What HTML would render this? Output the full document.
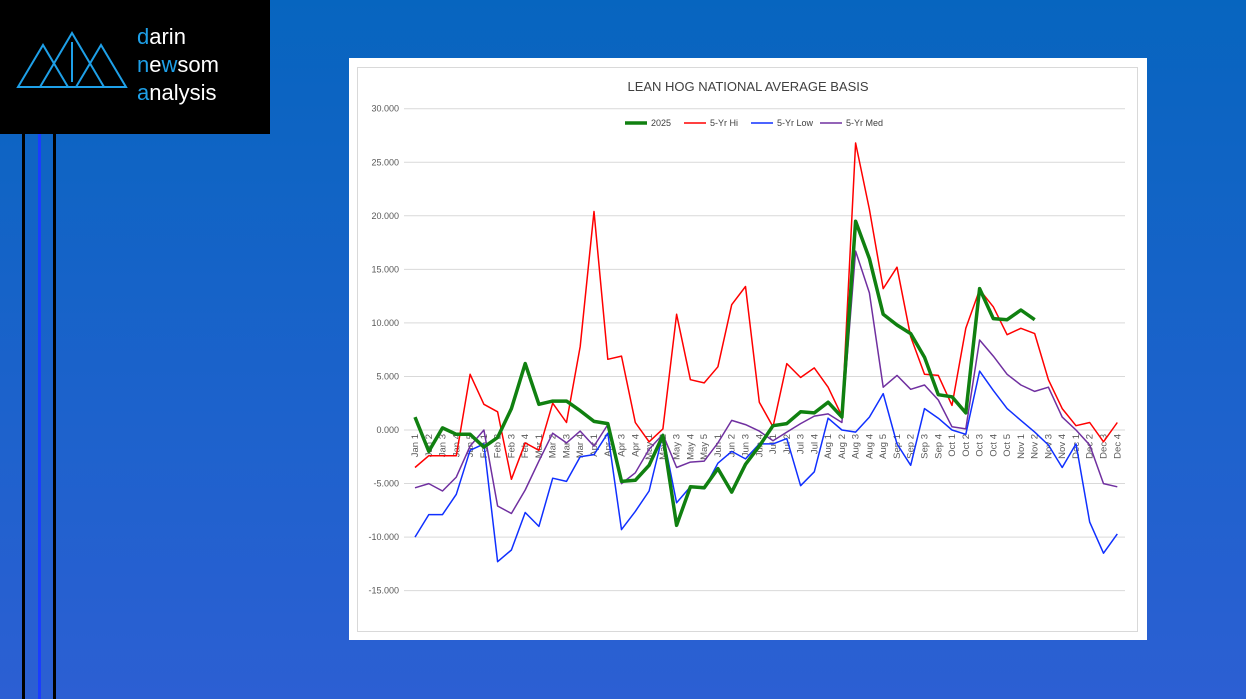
<!DOCTYPE html>
<html><head><meta charset="utf-8"><style>
body{margin:0;width:1246px;height:699px;overflow:hidden;background:linear-gradient(180deg,#0765bf 0%,#1d62cc 60%,#2c5fd3 100%);font-family:"Liberation Sans",sans-serif;position:relative}
#logo{position:absolute;left:0;top:0;width:270px;height:134px;background:#000}
.vl{position:absolute;top:134px;height:565px;width:3px}
#panel{position:absolute;left:349px;top:58px;width:798px;height:582px;background:#fff}
#inner{position:absolute;left:357px;top:67px;width:781px;height:565px;border:1px solid #d9d9d9;box-sizing:border-box}
</style></head><body>
<div id="logo">
<svg width="270" height="134">
<g fill="none" stroke="#1ea0e8" stroke-width="2">
<polygon points="18,87 43,45 68,87"/><polygon points="40,87 72,33 104,87"/><polygon points="76,87 101,45 126,87"/>
<line x1="72" y1="42" x2="72" y2="82"/>
</g>
<text x="137" y="44" font-size="22" fill="#fff" font-family="Liberation Sans,sans-serif"><tspan fill="#1ea0e8">d</tspan>arin</text>
<text x="137" y="72" font-size="22" fill="#fff" font-family="Liberation Sans,sans-serif"><tspan fill="#1ea0e8">n</tspan>e<tspan fill="#1ea0e8">w</tspan>som</text>
<text x="137" y="100" font-size="22" fill="#fff" font-family="Liberation Sans,sans-serif"><tspan fill="#1ea0e8">a</tspan>nalysis</text>
</svg></div>
<div class="vl" style="left:22px;background:#000"></div>
<div class="vl" style="left:38px;background:#1a3cff"></div>
<div class="vl" style="left:53px;background:#000"></div>
<div id="panel"></div>
<div id="inner"></div>
<svg id="chart" width="1246" height="699" style="position:absolute;left:0;top:0"></svg>
<script>
const categories=["Jan 1","Jan 2","Jan 3","Jan 4","Jan 5","Feb 1","Feb 2","Feb 3","Feb 4","Mar 1","Mar 2","Mar 3","Mar 4","Apr 1","Apr 2","Apr 3","Apr 4","May 1","May 2","May 3","May 4","May 5","Jun 1","Jun 2","Jun 3","Jun 4","Jul 1","Jul 2","Jul 3","Jul 4","Aug 1","Aug 2","Aug 3","Aug 4","Aug 5","Sep 1","Sep 2","Sep 3","Sep 4","Oct 1","Oct 2","Oct 3","Oct 4","Oct 5","Nov 1","Nov 2","Nov 3","Nov 4","Dec 1","Dec 2","Dec 3","Dec 4"];
const s2025=[1.2,-2,0.2,-0.4,-0.4,-1.6,-0.7,2,6.2,2.4,2.7,2.7,1.8,0.8,0.6,-4.8,-4.7,-3.3,-0.5,-8.9,-5.3,-5.4,-3.6,-5.8,-3.2,-1.5,0.4,0.6,1.7,1.6,2.6,1.2,19.5,16,10.8,9.8,9,6.8,3.3,3.1,1.6,13.2,10.4,10.3,11.2,10.3,null,null,null,null,null,null];
const sHi=[-3.5,-2.4,-2.4,-2.4,5.2,2.4,1.7,-4.6,-1.2,-1.9,2.5,0.7,7.8,20.4,6.6,6.9,0.7,-1.1,0.1,10.8,4.7,4.4,5.9,11.7,13.4,2.6,0.3,6.2,4.9,5.8,4,1.3,26.8,20.6,13.2,15.2,8.7,5.2,5.1,2.3,9.5,13.1,11.5,8.9,9.5,9,4.7,2,0.4,0.7,-1.1,0.7];
const sLow=[-10,-7.9,-7.9,-6,-1.9,-1.3,-12.3,-11.2,-7.7,-9,-4.5,-4.8,-2.5,-2.3,-0.3,-9.3,-7.6,-5.7,-0.4,-6.8,-5.3,-5.5,-3.1,-2,-2.7,-1.3,-1.3,-0.8,-5.2,-3.9,1.1,0,-0.2,1.2,3.4,-1.3,-3.3,2,1.1,0,-0.4,5.5,3.7,2,0.9,-0.2,-1.4,-3.5,-1.3,-8.6,-11.5,-9.7];
const sMed=[-5.4,-5,-5.7,-4.4,-1.5,0,-7.1,-7.8,-5.6,-2.9,-0.3,-1.2,-0.1,-1.5,0.5,-5,-4,-1.8,-0.4,-3.5,-3,-2.9,-1.2,0.9,0.5,-0.1,-1,-0.2,0.6,1.3,1.5,0.7,16.7,12.8,4,5.1,3.8,4.2,2.8,0.3,0.1,8.4,6.9,5.2,4.2,3.6,4,1.2,0,-1.4,-5,-5.3];
const yTicks=[30,25,20,15,10,5,0,-5,-10,-15];
const seriesNames=["2025","5-Yr Hi","5-Yr Low","5-Yr Med"];
const svg=document.getElementById('chart');const NS='http://www.w3.org/2000/svg';
function el(t,a,p){const e=document.createElementNS(NS,t);for(const k in a)e.setAttribute(k,a[k]);(p||svg).appendChild(e);return e;}
const X=i=>415+i*13.77, Y=v=>430-v*10.71;
const title=el('text',{x:748,y:91,'text-anchor':'middle','font-size':13,fill:'#404040'});title.textContent='LEAN HOG NATIONAL AVERAGE BASIS';


yTicks.forEach(t=>{
 const g=el('line',{x1:404,x2:1125,y1:Y(t),y2:Y(t),stroke:'#d9d9d9','stroke-width':1});
 
 
 const l=el('text',{x:399,y:Y(t)+3,'text-anchor':'end','font-size':9,fill:'#595959'});l.textContent=t.toFixed(3);
 
 
});
categories.forEach((c,i)=>{
 const l=el('text',{x:0,y:0,'text-anchor':'end','font-size':9.5,fill:'#595959',transform:`translate(${X(i)+3},${Y(0)+4}) rotate(-90)`});l.textContent=c;
 
 
});
const defs=[[s2025,'#108010',3.5,'series-2025'],[sHi,'#ff0000',1.5,'series-5yr-hi'],[sLow,'#1030ff',1.5,'series-5yr-low'],[sMed,'#7030a0',1.5,'series-5yr-med']];
[3,2,1,0].forEach(k=>{const [d,c,w,n]=defs[k];let p='';d.forEach((v,i)=>{if(v!==null)p+=(p?'L':'M')+X(i).toFixed(1)+','+Y(v).toFixed(1);});
 const e=el('path',{d:p,fill:'none',stroke:c,'stroke-width':w,'stroke-linejoin':'round'});
 
 
});
const lx=[625,684,751,820];
seriesNames.forEach((n,k)=>{
 const g=el('g',{});
 
 
 el('line',{x1:lx[k],x2:lx[k]+22,y1:123,y2:123,stroke:defs[k][1],'stroke-width':defs[k][2]},g);
 const t=el('text',{x:lx[k]+26,y:126,'font-size':9,fill:'#404040'},g);t.textContent=n;
});
</script>
</body></html>
